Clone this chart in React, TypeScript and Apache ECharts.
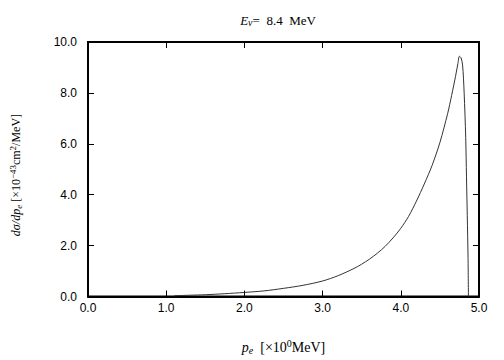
import React, { useEffect, useRef } from "react";
import * as echarts from "echarts";

const pValues = [1.1, 1.3, 1.5, 1.75, 2.0, 2.25, 2.5, 2.75, 3.0, 3.2, 3.4, 3.5, 3.6, 3.7, 3.8, 3.9, 4.0, 4.1, 4.2, 4.3, 4.4, 4.5, 4.6, 4.65, 4.7, 4.73, 4.75, 4.77, 4.79, 4.81, 4.83, 4.84, 4.85, 4.86, 4.865];
const sigmaValues = [0.03, 0.05, 0.07, 0.11, 0.16, 0.22, 0.32, 0.44, 0.61, 0.82, 1.1, 1.27, 1.47, 1.7, 1.97, 2.3, 2.68, 3.15, 3.75, 4.42, 5.15, 6.05, 7.2, 7.9, 8.65, 9.15, 9.44, 9.38, 9.1, 8.0, 6.25, 4.7, 3.19, 1.5, 0];
const xTicks = [0, 1, 2, 3, 4, 5];
const yTicks = [0, 2, 4, 6, 8, 10];

const serif = "'Liberation Serif', 'DejaVu Serif', serif";
const sans = "'Liberation Sans', Arial, sans-serif";

export default function App() {
  const ref = useRef<HTMLDivElement>(null);
  useEffect(() => {
    document.body.style.margin = "0";
    if (!ref.current) return;
    const chart = echarts.init(ref.current, null, { renderer: "svg" });
    const data = pValues.map((p, i) => [p, sigmaValues[i]]);
    const mkLine = () => ({ show: true, onZero: false, lineStyle: { color: "#000", width: 2 } });
    const mkTick = () => ({ show: true, inside: true, length: 6, lineStyle: { color: "#000", width: 1 } });
    chart.setOption({
      animation: false,
      backgroundColor: "#fff",
      grid: { left: 88, right: 25, top: 42, bottom: 57, show: true, borderColor: "#000", borderWidth: 2, backgroundColor: "transparent" },
      xAxis: [
        {
          type: "value", min: xTicks[0], max: xTicks[xTicks.length - 1], interval: 1,
          axisLine: mkLine(), axisTick: mkTick(), splitLine: { show: false },
          axisLabel: { color: "#000", fontFamily: sans, fontSize: 12, margin: 5, formatter: (v: number) => v.toFixed(1) },
          name: "{it|p}{sub|e}{n|  [×10}{sup|0}{n|MeV]}",
          nameLocation: "middle", nameGap: 42,
          nameTextStyle: {
            rich: {
              it: { fontFamily: serif, fontStyle: "italic", fontSize: 14, color: "#000" },
              sub: { fontFamily: serif, fontStyle: "italic", fontSize: 10, color: "#000", padding: [5, 0, 0, 0] },
              sup: { fontFamily: serif, fontSize: 10, color: "#000", padding: [0, 0, 8, 0] },
              n: { fontFamily: serif, fontSize: 14, color: "#000" },
            },
          },
        },
        {
          type: "value", position: "top", min: xTicks[0], max: xTicks[xTicks.length - 1], interval: 1,
          axisLine: mkLine(), axisTick: mkTick(), splitLine: { show: false }, axisLabel: { show: false },
        },
      ],
      yAxis: [
        {
          type: "value", min: yTicks[0], max: yTicks[yTicks.length - 1], interval: 2,
          axisLine: mkLine(), axisTick: mkTick(), splitLine: { show: false },
          axisLabel: { color: "#000", fontFamily: sans, fontSize: 12, margin: 11, formatter: (v: number) => v.toFixed(1) },
        },
        {
          type: "value", position: "right", min: yTicks[0], max: yTicks[yTicks.length - 1], interval: 2,
          axisLine: mkLine(), axisTick: mkTick(), splitLine: { show: false }, axisLabel: { show: false },
        },
      ],
      series: [
        {
          type: "line", data, showSymbol: false, smooth: 0.3,
          lineStyle: { color: "#333", width: 1 },
        },
      ],
      graphic: [
        {
          type: "text", x: 278, y: 20,
          style: {
            text: "{it|E}{sub|ν}{n|=  8.4  MeV}",
            align: "center", verticalAlign: "middle",
            rich: {
              it: { fontFamily: serif, fontStyle: "italic", fontSize: 13, fill: "#000" },
              sub: { fontFamily: serif, fontStyle: "italic", fontSize: 10, fill: "#000", padding: [5, 0, 0, 0] },
              n: { fontFamily: serif, fontSize: 13, fill: "#000" },
            },
          },
        },
        {
          type: "text", x: 16, y: 175, rotation: Math.PI / 2,
          style: {
            text: "{it|dσ/dp}{sub|e}{n| [×10}{sup|−43}{n|cm}{sup|2}{n|/MeV]}",
            align: "center", verticalAlign: "middle",
            rich: {
              it: { fontFamily: serif, fontStyle: "italic", fontSize: 12, fill: "#000" },
              sub: { fontFamily: serif, fontStyle: "italic", fontSize: 9, fill: "#000", padding: [5, 0, 0, 0] },
              sup: { fontFamily: serif, fontSize: 9, fill: "#000", padding: [0, 0, 7, 0] },
              n: { fontFamily: serif, fontSize: 12, fill: "#000" },
            },
          },
        },
      ],
    });
    return () => chart.dispose();
  }, []);
  return <div ref={ref} style={{ width: 504, height: 360 }} />;
}
